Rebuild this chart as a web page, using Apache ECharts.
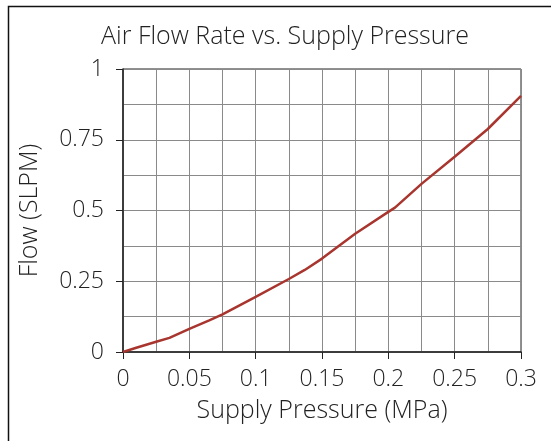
<!DOCTYPE html>
<html lang="en">
<head>
    <meta charset="UTF-8">
    <title>Air Flow Rate vs. Supply Pressure</title>
    <style>
        * {
            margin: 0;
            padding: 0;
        }

        html, body {
            width: 100%;
            height: 100%;
            background: #fff;
        }

        #chart {
            width: 551px;
            height: 441px;
        }
    </style>
    <script src="https://cdn.jsdelivr.net/npm/echarts@6/dist/echarts.min.js"></script>
</head>
<body>
<div id="chart"></div>

<script>
    // supply pressure (MPa) and flow (SLPM)
    const pressure = [0, 0.01, 0.025, 0.035, 0.05, 0.065, 0.075, 0.1, 0.125, 0.137, 0.15, 0.175, 0.2, 0.205, 0.225, 0.25, 0.275, 0.3]
    const flow = [0, 0.015, 0.036, 0.05, 0.082, 0.112, 0.133, 0.195, 0.258, 0.29, 0.33, 0.418, 0.495, 0.51, 0.594, 0.69, 0.788, 0.905]

    const xTicks = {min: 0, max: 0.3, step: 0.05}
    const yTicks = {min: 0, max: 1, step: 0.25}

    let chart = echarts.init(document.getElementById('chart'))
    let textColor = '#222'
    let font = 'Open Sans'
    let gridLine = {show: true, lineStyle: {color: '#8a8a8a', width: 1, type: 'solid'}}

    let option = {
        animation: false,
        textStyle: {fontFamily: font},
        title: {
            text: 'Air Flow Rate vs. Supply Pressure',
            left: 280,
            top: 19,
            textAlign: 'center',
            textStyle: {color: textColor, fontSize: 25, fontWeight: 300, fontFamily: font}
        },
        graphic: [{
            type: 'rect',
            shape: {x: 8.5, y: 6.5, width: 560, height: 450},
            style: {fill: 'none', stroke: '#111', lineWidth: 1.5},
            silent: true
        }],
        grid: {
            left: 123,
            right: 30,
            top: 69,
            bottom: 89,
            show: true,
            borderColor: '#222',
            borderWidth: 1
        },
        xAxis: {
            type: 'value',
            min: xTicks.min,
            max: xTicks.max,
            interval: xTicks.step,
            name: 'Supply Pressure (MPa)',
            nameLocation: 'middle',
            nameGap: 46,
            nameTextStyle: {color: textColor, fontSize: 25, fontWeight: 300, fontFamily: font},
            axisLine: {show: true, lineStyle: {color: '#222', width: 1.5}},
            axisTick: {show: true, length: 7, lineStyle: {color: '#222'}},
            axisLabel: {color: textColor, fontSize: 23, fontWeight: 300, margin: 16, fontFamily: font},
            splitLine: gridLine,
            minorTick: {show: false, splitNumber: 2},
            minorSplitLine: gridLine
        },
        yAxis: {
            type: 'value',
            min: yTicks.min,
            max: yTicks.max,
            interval: yTicks.step,
            name: 'Flow (SLPM)',
            nameLocation: 'middle',
            nameGap: 81,
            nameTextStyle: {color: textColor, fontSize: 25, fontWeight: 300, fontFamily: font},
            axisLine: {show: true, lineStyle: {color: '#222', width: 1.5}},
            axisTick: {show: true, length: 7, lineStyle: {color: '#222'}},
            axisLabel: {color: textColor, fontSize: 23, fontWeight: 300, margin: 19, fontFamily: font},
            splitLine: gridLine,
            minorTick: {show: false, splitNumber: 2},
            minorSplitLine: gridLine
        },
        series: [{
            type: 'line',
            data: pressure.map((p, i) => [p, flow[i]]),
            showSymbol: false,
            smooth: false,
            lineStyle: {color: '#a8362f', width: 2.5}
        }]
    }
    chart.setOption(option, true)
</script>
</body>
</html>
